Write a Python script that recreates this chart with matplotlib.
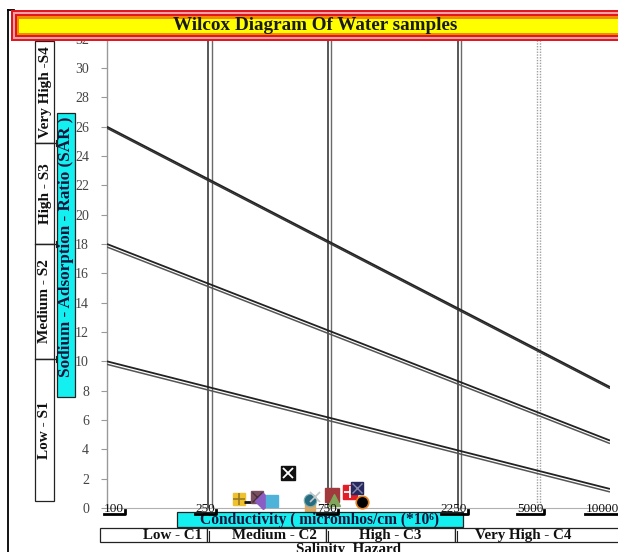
import numpy as np
import matplotlib
matplotlib.use("Agg")
import matplotlib.pyplot as plt
from matplotlib.patches import Rectangle
from matplotlib.lines import Line2D
from matplotlib.transforms import ScaledTranslation, IdentityTransform

# ---------------- data ----------------
title = "Wilcox Diagram Of Water samples"
x_ticks = [100, 250, 750, 2250, 5000, 10000]
x_tick_labels = ["100", "250", "750", "2250", "5000", "10000"]
y_ticks = list(range(0, 33, 2))

# SAR boundary lines (EC at ends, SAR at ends)
line_ec = [100, 10000]
sar_s1_s2 = [10.0, 1.3]
sar_s2_s3 = [18.0, 4.6]
sar_s3_s4 = [26.0, 8.25]

# vertical salinity boundaries
ec_bounds_solid = [250, 750, 2250]
ec_bounds_dotted = [5000]

# water samples
sample_ec = [332, 361, 392, 414, 451, 520, 636, 636, 665, 776, 789, 900, 957, 998]
sample_sar = [0.61, 0.40, 0.75, 0.48, 0.45, 2.36, 0.10, 0.55, 0.77, 0.92, 0.55, 1.06, 1.36, 0.43]

sar_classes = ["Very High -S4", "High - S3", "Medium - S2", "Low - S1"]
ec_classes = ["Low - C1", "Medium - C2", "High - C3", "Very High - C4"]
x_label = "Conductivity ( micromhos/cm (*10\u2076)"
y_label = "Sodium - Adsorption - Ratio (SAR )"
bottom_title = "Salinity  Hazard"

# ---------------- styles ----------------
sample_styles = [
    [dict(marker='s', ms=9, mfc='#eec12e', mec='#eec12e'), dict(marker='+', ms=8, mec='#9a7a20', mew=1.2)],
    [dict(marker='_', ms=6, mec='#111111', mew=2)],
    [dict(marker='s', ms=9, mfc='#7a4f5e', mec='#7a4f5e'), dict(marker='x', ms=7, mec='#4a2f3a', mew=1)],
    [dict(marker='D', ms=8, mfc='#8a5cc4', mec='#8a5cc4')],
    [dict(marker='s', ms=9, mfc='#4fb3d9', mec='#4fb3d9')],
    [dict(marker='s', ms=9.5, mfc='#111111', mec='#111111'), dict(marker='x', ms=7.5, mec='white', mew=1.3)],
    [dict(marker='s', ms=6.5, mfc='#d9a866', mec='#d9a866')],
    [dict(marker='o', ms=9, mfc='#286a80', mec='#7ab0b0', mew=0.8)],
    [dict(marker='x', ms=7, mec='#c0c8c8', mew=1.2)],
    [dict(marker='s', ms=9.5, mfc='#a03a3c', mec='#a03a3c')],
    [dict(marker='^', ms=8, mfc='#7fa65a', mec='#7fa65a')],
    [dict(marker='s', ms=9.5, mfc='#e41e26', mec='#e41e26'), dict(marker='+', ms=9, mec='white', mew=1.3)],
    [dict(marker='s', ms=9, mfc='#27285e', mec='#27285e'), dict(marker='x', ms=7, mec='#8888aa', mew=1)],
    [dict(marker='o', ms=9, mfc='#000000', mec='#e08020', mew=1.2)],
]

SERIF = ['Liberation Serif', 'DejaVu Serif']
plt.rcParams['font.family'] = SERIF

W, H, DPI = 618, 552, 100
fig = plt.figure(figsize=(W / DPI, H / DPI), dpi=DPI)
fig.patch.set_facecolor('white')

def fx(px):
    return px / W

def fy(py):
    return 1 - py / H

# custom scale: piecewise log mapping matching the original spacing
L_PTS = np.log10(np.array(x_ticks, dtype=float))
P_PTS = np.array([107, 208, 328, 458, 537, 610], dtype=float)
s0 = (P_PTS[1] - P_PTS[0]) / (L_PTS[1] - L_PTS[0])
s1 = (P_PTS[-1] - P_PTS[-2]) / (L_PTS[-1] - L_PTS[-2])
LX = np.concatenate([[-8.0], L_PTS, [14.0]])
PX = np.concatenate([[P_PTS[0] - s0 * (L_PTS[0] + 8)], P_PTS, [P_PTS[-1] + s1 * (14 - L_PTS[-1])]])

def fwd(x):
    x = np.asarray(x, dtype=float)
    lx = np.log10(np.clip(x, 1e-8, None))
    return np.interp(lx, LX, PX)

def inv(p):
    p = np.asarray(p, dtype=float)
    return 10 ** np.interp(p, PX, LX)

ax_l, ax_r, ax_t, ax_b = 107, 610, 38.7, 508
ax = fig.add_axes([fx(ax_l), fy(ax_b), fx(ax_r - ax_l), (ax_b - ax_t) / H])
ax.set_xscale('function', functions=(fwd, inv))
ax.set_xlim(100, 10000)
ax.set_ylim(0, 32)
ax.set_facecolor('white')

for sp in ['top', 'right']:
    ax.spines[sp].set_visible(False)
ax.spines['left'].set_color('#9a9a9a')
ax.spines['bottom'].set_color('#b0b0b0')
ax.spines['left'].set_linewidth(1.0)
ax.spines['bottom'].set_linewidth(0.8)

ax.set_yticks(y_ticks)
ax.set_yticklabels([str(v) for v in y_ticks])
ax.tick_params(axis='y', direction='out', length=4, color='#9a9a9a', labelcolor='#444444',
               labelsize=10, pad=9)
ax.set_xticks(x_ticks)
ax.tick_params(axis='x', length=0, labelbottom=False)
ax.xaxis.set_minor_locator(matplotlib.ticker.NullLocator())

def px_off(dx, dy):
    return ScaledTranslation(dx / DPI, dy / DPI, fig.dpi_scale_trans)

# vertical boundaries (double lines)
for v in ec_bounds_solid:
    ax.plot([v, v], [0, 1], transform=ax.get_xaxis_transform(), color='#2a2a2a', lw=1.1, zorder=2)
    ax.plot([v, v], [0, 1], transform=ax.get_xaxis_transform() + px_off(3.5, 0),
            color='#6a6a6a', lw=1.0, zorder=2)
for v in ec_bounds_dotted:
    ax.plot([v, v], [0, 1], transform=ax.get_xaxis_transform(), color='#a0a0a0', lw=1.0,
            ls=(0, (1, 1)), zorder=2)
    ax.plot([v, v], [0, 1], transform=ax.get_xaxis_transform() + px_off(3, 0),
            color='#a0a0a0', lw=1.0, ls=(0, (1, 1)), zorder=2)

# SAR lines (double)
for sar, off, c2 in [(sar_s1_s2, -3.0, '#555555'), (sar_s2_s3, -3.0, '#555555'), (sar_s3_s4, -1.5, '#333333')]:
    ax.plot(line_ec, sar, color='#222222', lw=1.3, zorder=3, solid_capstyle='butt')
    ax.plot(line_ec, sar, color=c2, lw=1.1, zorder=3, transform=ax.transData + px_off(0, off),
            solid_capstyle='butt')

# samples
for ec, sar, layers in zip(sample_ec, sample_sar, sample_styles):
    for st in layers:
        ax.plot([ec], [sar], ls='none', zorder=6, clip_on=False, **st)

# ---------------- decorations in figure pixels ----------------
def rect(x0, y0, x1, y1, fc='none', ec='black', lw=0.8, z=5):
    r = Rectangle((fx(x0), fy(y1)), fx(x1 - x0), (y1 - y0) / H, transform=fig.transFigure,
                  facecolor=fc, edgecolor=ec, linewidth=lw, zorder=z)
    fig.add_artist(r)
    return r

def fline(xs, ys, color='black', lw=1.0, z=6):
    fig.add_artist(Line2D([fx(x) for x in xs], [fy(y) for y in ys], transform=fig.transFigure,
                          color=color, lw=lw, zorder=z))

def ftext(x, y, s, **kw):
    return fig.text(fx(x), fy(y), s, **kw)

# left frame
fline([8, 8], [10, 560], color='black', lw=1.3)
fline([8, 14], [10, 10], color='black', lw=1.3)

# title bar
rect(11, 10, 640, 41, fc='#e3161d', ec='none', lw=0, z=7)
rect(13, 12, 640, 39, fc='#f3a1a6', ec='none', lw=0, z=7)
rect(15, 14, 640, 37, fc='#e3161d', ec='none', lw=0, z=7)
rect(17, 16.5, 640, 34.5, fc='#f28a00', ec='none', lw=0, z=7)
rect(19, 19, 640, 32.5, fc='#ffff00', ec='none', lw=0, z=7)
ftext(315, 26, title, ha='center', va='center', fontsize=13.8, fontweight='bold', color='#1a1a1a', zorder=8)

# left SAR class boxes
sar_box_edges = [41, 143, 244, 359, 501]
for i, lab in enumerate(sar_classes):
    y0, y1 = sar_box_edges[i], sar_box_edges[i + 1]
    rect(35, y0, 54, y1, fc='white', ec='#222222', lw=0.9, z=5)
    ftext(45, (y0 + y1) / 2, lab, rotation=90, ha='center', va='center', fontsize=11,
          fontweight='bold', color='#111111', zorder=6)
for b in sar_box_edges[1:-1]:
    fline([35, 60], [b, b], color='#222222', lw=0.9)
    fline([55.5, 55.5], [b - 3, b + 3], color='#222222', lw=0.8)
    fline([58, 58], [b - 3, b + 3], color='#222222', lw=0.8)

# cyan SAR label box
rect(57, 113, 75, 397, fc='#14f0f0', ec='#222222', lw=0.9, z=6)
ftext(66.5, 247, y_label, rotation=90, ha='center', va='center', fontsize=12.3, fontweight='bold',
      color='#14143c', zorder=7)

# cyan conductivity box
rect(177, 512, 463, 527, fc='#14f0f0', ec='#222222', lw=0.9, z=6)
ftext(320, 519.5, x_label, ha='center', va='center', fontsize=11.2, fontweight='bold',
      color='#14143c', zorder=7, family=SERIF)

# salinity class boxes
ec_box_edges = [100, 207, 326, 455, 640]
ec_text_x = [173, 274, 390, 523]
for i, lab in enumerate(ec_classes):
    x0, x1 = ec_box_edges[i], ec_box_edges[i + 1]
    rect(x0, 528, x1, 542, fc='white', ec='#222222', lw=0.9, z=5)
    ftext(ec_text_x[i], 535.5, lab, ha='center', va='center', fontsize=10.8, fontweight='bold',
          color='#111111', zorder=6)
for b in ec_box_edges[1:-1]:
    fline([b + 2, b + 2], [531, 541], color='#222222', lw=0.8)
ftext(348, 543.5, bottom_title, ha='center', va='top', fontsize=10.8, fontweight='bold',
      color='#111111', zorder=6)

# x tick labels (placed via the axis scale, drawn above the boxes)
label_dx = [7, -3, -1, -4, -7, -8]
baseline_off = -4.0
texts = []
for v, lab, dx in zip(x_ticks, x_tick_labels, label_dx):
    t = fig.text(v, 0, lab, transform=ax.get_xaxis_transform() + px_off(dx, baseline_off),
                 ha='center', va='baseline', fontsize=9.5, color='#111111', zorder=9)
    texts.append(t)

# underlines for x tick labels (from rendered text extents)
fig.canvas.draw()
renderer = fig.canvas.get_renderer()
ax_y0 = ax.get_window_extent(renderer).y0
for t in texts:
    bb = t.get_window_extent(renderer)
    yb = ax_y0 + baseline_off - 1.5
    fig.add_artist(Line2D([bb.x0, bb.x1 + 1, bb.x1 + 1], [yb, yb, yb + 4],
                          transform=IdentityTransform(), color='black', lw=2.0, zorder=9))

fig.savefig('out.png', dpi=DPI)
